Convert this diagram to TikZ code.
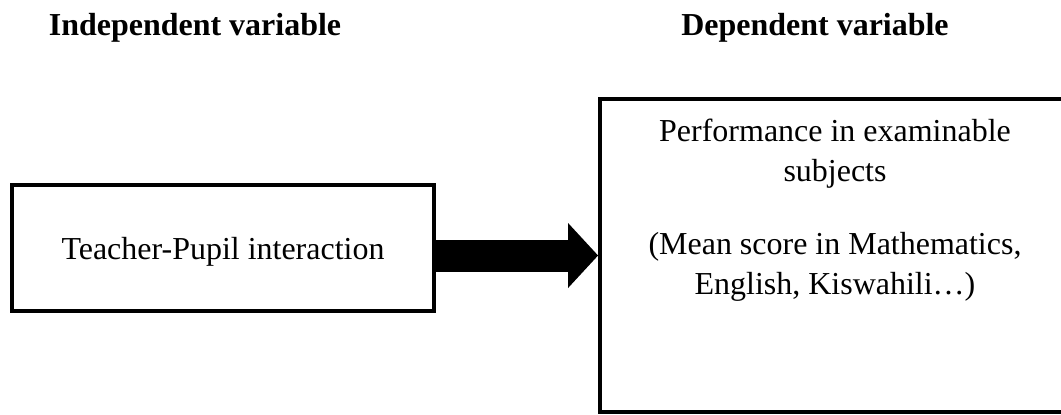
\documentclass[tikz,border=0pt]{standalone}
\usepackage{fontspec}
\setmainfont{Liberation Serif}
\usetikzlibrary{arrows.meta}

\begin{document}
\begin{tikzpicture}[x=0.02cm, y=-0.02cm,
  font=\fontsize{18.2}{22.7}\selectfont,
  title/.style={font=\fontsize{18.2}{22.7}\selectfont\bfseries, anchor=base},
  varbox/.style={draw, line width=0.08cm, inner sep=0pt},
  body/.style={align=center, anchor=north, inner sep=0pt}]
\useasboundingbox (0,0) rectangle (1061,414);
\clip (0,0) rectangle (1061,414);
% headings
\node[title] (indeptitle) at (195,35) {Independent variable};
\node[title] (deptitle) at (815,35) {Dependent variable};
% boxes
\node[varbox, text depth=0pt, minimum width=8.43cm, minimum height=2.51cm] (indep) at (223,248) {Teacher-Pupil interaction};
\node[varbox, minimum width=9.44cm, minimum height=6.26cm] (dep) at (836,255.5) {};
\node[body] (perf) at (835,119) {Performance in examinable\\subjects};
\node[body] (scores) at (835,232) {(Mean score in Mathematics,\\English, Kiswahili…)};
% arrow
\draw[line width=0.64cm, -{Triangle[length=0.6cm, width=1.3cm, line width=0pt]}] (indep.east |- dep.west) -- (dep.west);
\end{tikzpicture}
\end{document}
